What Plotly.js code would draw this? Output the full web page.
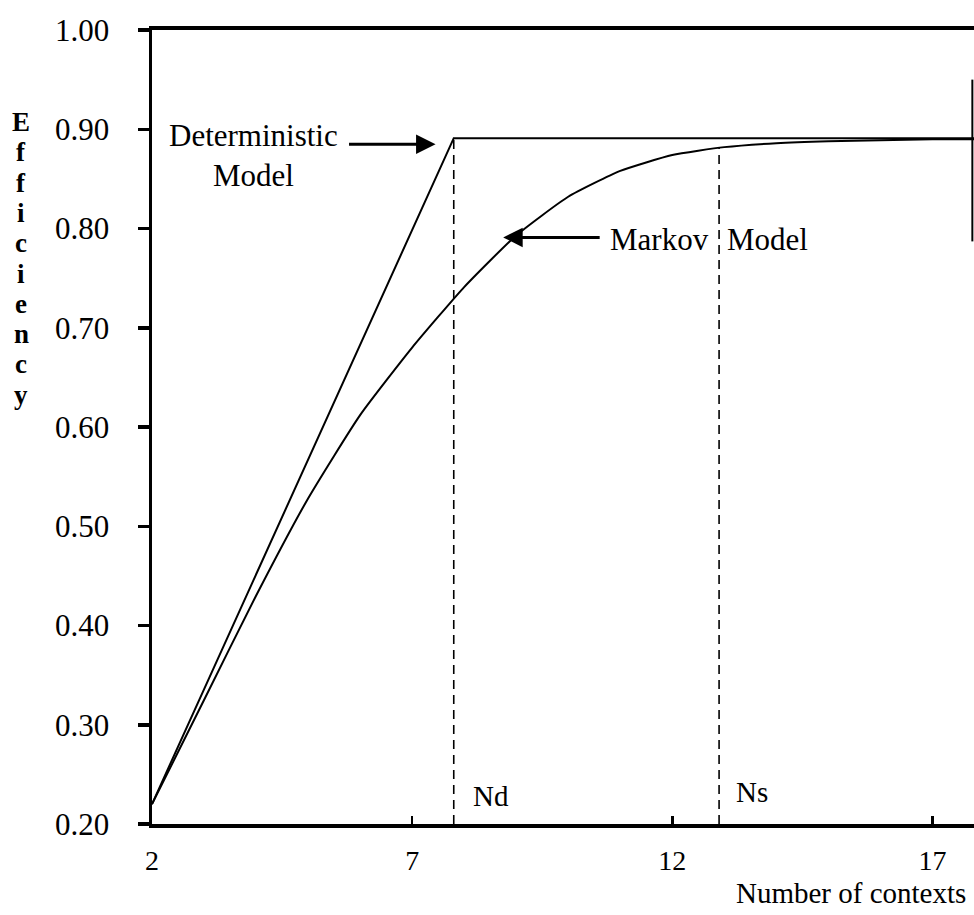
<!DOCTYPE html>
<html>
<head>
<meta charset="utf-8">
<script src="https://cdn.plot.ly/plotly-3.0.1.min.js"></script>
<style>html,body{margin:0;padding:0;background:#fff;}#chart{width:974px;height:915px;}</style>
</head>
<body>
<div id="chart"></div>
<script>
// ---- data ----
const contexts = [2, 3, 4, 5, 6, 7, 8, 9, 10, 11, 12, 13, 14, 15, 16, 17, 18];
const markovEff = [0.22, 0.325, 0.43, 0.528, 0.612, 0.68, 0.741, 0.793, 0.832, 0.858, 0.874, 0.882, 0.886, 0.888, 0.889, 0.89, 0.89];
const deterX = [2, 7.8, 18];
const deterEff = [0.22, 0.891, 0.891];
const Nd = 7.8;
const Ns = 12.9;
const xTicks = [2, 7, 12, 17];
const yTicks = [0.2, 0.3, 0.4, 0.5, 0.6, 0.7, 0.8, 0.9, 1.0];
const yTickText = ["0.20", "0.30", "0.40", "0.50", "0.60", "0.70", "0.80", "0.90", "1.00"];
const yTitleLetters = ["E", "f", "f", "i", "c", "i", "e", "n", "c", "y"];

const FONT = "Liberation Serif, Times New Roman, serif";
const W = 974, H = 915;
const M = {l: 152, r: 0, t: 30, b: 91};

function px2paperX(px) { return (px - M.l) / (W - M.l - M.r); }
function px2paperY(py) { return (H - M.b - py) / (H - M.t - M.b); }

const traces = [
  {x: deterX, y: deterEff, mode: "lines", line: {color: "#000", width: 2}, hoverinfo: "skip"},
  {x: contexts, y: markovEff, mode: "lines", line: {color: "#000", width: 2, shape: "spline", smoothing: 0.5}, hoverinfo: "skip"},
  {x: [Nd, Nd], y: [0.2, deterEff[1]], mode: "lines", line: {color: "#000", width: 1.6, dash: "9px,6px"}, hoverinfo: "skip"},
  {x: [Ns, Ns], y: [0.2, markovEff[contexts.indexOf(13)]], mode: "lines", line: {color: "#000", width: 1.6, dash: "9px,6px"}, hoverinfo: "skip"}
];

const txtFont = {family: FONT, size: 31, color: "#000"};
const annotations = [
  {x: px2paperX(253), y: px2paperY(155), xref: "paper", yref: "paper", text: "Deterministic<br>Model",
   showarrow: false, xanchor: "center", yanchor: "middle", font: txtFont},
  {x: 7.45, y: 0.885, xref: "x", yref: "y", text: "", showarrow: true, ax: -88, ay: 0,
   arrowhead: 2, arrowsize: 1.3, arrowwidth: 3, arrowcolor: "#000"},
  {x: 8.75, y: 0.791, xref: "x", yref: "y", text: "", showarrow: true, ax: 98, ay: 0,
   arrowhead: 2, arrowsize: 1.3, arrowwidth: 3, arrowcolor: "#000"},
  {x: px2paperX(711), y: px2paperY(240), xref: "paper", yref: "paper", text: "Markov", showarrow: false,
   xanchor: "right", yanchor: "middle", font: txtFont},
  {x: px2paperX(725), y: px2paperY(240), xref: "paper", yref: "paper", text: "Model", showarrow: false,
   xanchor: "left", yanchor: "middle", font: txtFont},
  {x: px2paperX(471), y: px2paperY(796), xref: "paper", yref: "paper", text: "Nd", showarrow: false,
   xanchor: "left", yanchor: "middle", font: {family: FONT, size: 29, color: "#000"}},
  {x: px2paperX(734), y: px2paperY(792), xref: "paper", yref: "paper", text: "Ns", showarrow: false,
   xanchor: "left", yanchor: "middle", font: {family: FONT, size: 29, color: "#000"}},
  {x: px2paperX(968), y: px2paperY(893), xref: "paper", yref: "paper", text: "Number of contexts", showarrow: false,
   xanchor: "right", yanchor: "middle", font: {family: FONT, size: 29, color: "#000"}}
];

// stacked vertical y-axis title
yTitleLetters.forEach((ch, i) => {
  annotations.push({
    x: px2paperX(21), y: px2paperY(122 + i * 30.3), xref: "paper", yref: "paper",
    text: "<b>" + ch + "</b>", showarrow: false, xanchor: "center", yanchor: "middle",
    font: {family: FONT, size: 27, color: "#000"}
  });
});

const layout = {
  width: W, height: H,
  margin: M,
  paper_bgcolor: "#fff", plot_bgcolor: "#fff",
  showlegend: false,
  font: {family: FONT, color: "#000"},
  xaxis: {
    range: [2, 17.8], tickvals: xTicks, ticktext: xTicks.map(String),
    showgrid: false, zeroline: false, showline: true, linecolor: "#000", linewidth: 4,
    mirror: true, ticks: "inside", ticklen: 8, tickwidth: 2.5, tickcolor: "#000",
    tickfont: {family: FONT, size: 28, color: "#000"}, ticklabelstandoff: 8
  },
  yaxis: {
    range: [0.2, 1.0], tickvals: yTicks, ticktext: yTickText,
    showgrid: false, zeroline: false, showline: true, linecolor: "#000", linewidth: 3.5,
    ticks: "outside", ticklen: 11, tickwidth: 3.5, tickcolor: "#000",
    tickfont: {family: FONT, size: 31, color: "#000"}, ticklabelstandoff: 22
  },
  shapes: [
    {type: "line", xref: "paper", yref: "y", x0: 0.998, x1: 0.998, y0: 0.787, y1: 0.95,
     line: {color: "#000", width: 2}}
  ],
  annotations: annotations
};

Plotly.newPlot("chart", traces, layout, {displayModeBar: false, staticPlot: true});
</script>
</body>
</html>
